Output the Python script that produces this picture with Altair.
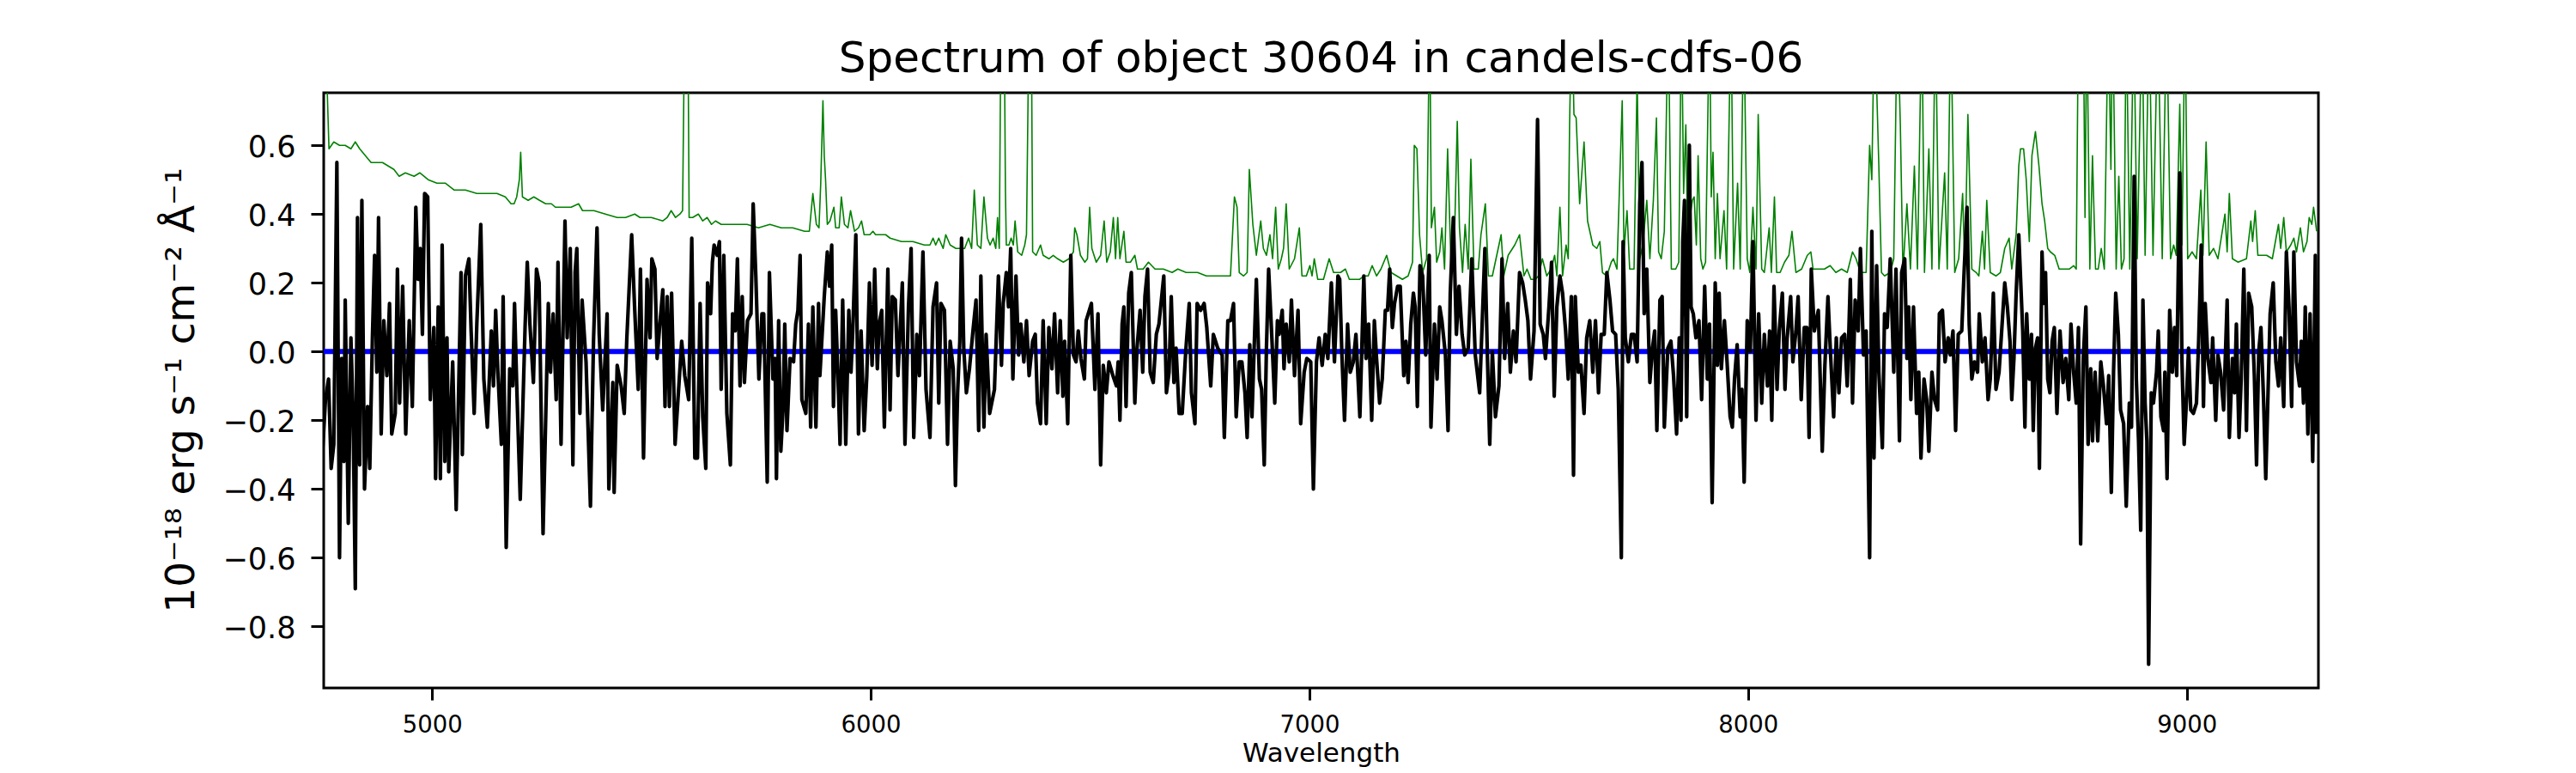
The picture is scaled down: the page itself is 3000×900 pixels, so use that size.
import altair as alt
import pandas as pd

# ---------------- data ----------------
# Object spectrum (black), in six wavelength segments
obj_wave_1 = [4750,4757,4764,4770,4776,4783,4789,4794,4799,4802,4809,4815,4820,4825,4830,4835,4840,4846,4853,4858,
              4864,4869,4874,4878,4884,4890,4897,4903,4908,4916,4921,4926,4933,4940,4948,4955,4963,4968,4973,4978,
              4983,4990,4996,5004,5008,5014,5019,5023,5029,5034,5038,5047,5055,5066,5069,5076,5084,5089,5096,5102,
              5111,5118,5126,5135,5140,5145,5150,5158,5162,5169,5177,5184,5188,5193,5201,5212,5217,5223,5231,5238,
              5244,5253,5260,5265,5270,5276,5283,5287,5294,5303,5308,5315,5321,5326,5330,5337,5342,5351,5361,5368,
              5376,5381,5389,5399,5403,5412,5415,5422,5431,5438,5444,5455,5462,5470,5475,5482,5490,5497,5501,5508,
              5513,5518,5526,5531]
obj_flux_1 = [-0.30,-0.14,-0.08,-0.34,-0.27,0.55,-0.60,-0.02,-0.32,0.15,-0.50,0.04,-0.18,-0.69,0.39,-0.33,0.44,-0.40,-0.16,-0.34,
              0.04,0.28,-0.06,0.39,-0.24,0.09,-0.07,0.14,-0.24,-0.18,0.24,-0.15,0.19,-0.24,0.09,-0.16,0.42,0.21,0.30,0.05,
              0.46,0.45,-0.14,0.07,-0.37,0.13,-0.37,0.31,-0.32,0.04,-0.35,-0.03,-0.46,0.23,-0.30,0.22,0.27,0.06,-0.18,0.08,
              0.37,-0.08,-0.22,0.06,-0.10,0.12,-0.06,-0.27,0.16,-0.57,-0.05,-0.10,0.14,-0.10,-0.43,0.07,0.26,0.08,-0.09,0.24,
              0.20,-0.53,-0.14,0.14,-0.06,0.11,-0.14,0.26,-0.27,0.38,0.04,0.30,-0.33,0.23,0.30,-0.18,0.15,-0.03,-0.45,0.03,
              0.36,0.05,-0.17,0.11,-0.40,-0.09,-0.41,-0.04,-0.10,-0.18,0.04,0.34,0.12,-0.11,0.24,-0.31,0.21,0.04,0.27,0.24,
              -0.02,0.06,0.18,-0.16]

obj_wave_2 = [5536,5541,5546,5554,5560,5569,5576,5585,5592,5599,5605,5611,5617,5624,5628,5635,5639,5643,5650,5655,
              5659,5665,5672,5680,5685,5691,5696,5702,5707,5712,5719,5727,5732,5738,5745,5752,5756,5764,5769,5777,
              5782,5785,5790,5795,5800,5804,5809,5816,5824,5829,5834,5839,5843,5852,5858,5863,5868,5875,5881,5884,
              5894,5901,5906,5911,5915,5920,5925,5930,5936,5943,5950,5955,5959,5966,5972,5978,5985,5991,5997,6003,
              6009,6015,6019,6025,6031,6039,6044,6049,6056,6062,6072,6078,6086,6092,6098,6105,6111,6119,6126,6135,
              6142,6150,6155,6160,6168,6175,6181,6188,6193,6198,6203,6207,6212,6218,6225,6233,6240,6246,6251,6258,
              6263,6271,6282,6291,6298]
obj_flux_2 = [0.16,-0.16,0.17,-0.27,-0.15,0.03,-0.07,-0.14,0.33,-0.31,-0.31,0.14,-0.19,-0.34,0.20,0.11,0.26,0.31,0.28,0.32,
              -0.11,0.28,-0.18,-0.33,0.11,0.06,0.27,-0.10,0.16,-0.09,0.09,0.11,0.43,0.22,-0.08,0.11,0.11,-0.38,0.23,-0.08,
              -0.02,-0.37,0.09,-0.29,-0.17,0.08,-0.23,-0.02,-0.03,0.08,0.12,0.28,-0.14,-0.18,0.08,-0.22,0.13,-0.22,0.14,-0.07,
              0.16,0.29,0.19,0.31,-0.16,0.12,-0.06,-0.27,0.15,-0.27,0.12,-0.06,0.06,0.34,-0.24,0.06,-0.23,-0.07,0.20,-0.04,
              0.24,-0.05,0.08,0.12,-0.22,0.24,-0.17,0.16,0.15,-0.07,0.20,-0.27,0.13,0.30,-0.25,0.05,-0.07,0.29,-0.11,-0.25,
              0.13,0.20,-0.15,0.14,0.12,-0.27,0.03,-0.05,-0.39,-0.12,0.03,0.33,0.01,-0.12,-0.05,0.06,0.15,-0.23,0.22,-0.22,
              0.05,-0.18,-0.11,0.22,-0.04]

obj_wave_3 = [6302,6309,6314,6319,6324,6331,6337,6342,6349,6355,6361,6369,6375,6380,6387,6393,6400,6406,6413,6419,
              6426,6432,6438,6442,6449,6456,6462,6468,6473,6479,6487,6491,6503,6511,6518,6524,6530,6537,6543,6552,
              6560,6564,6568,6573,6577,6582,6588,6594,6602,6607,6614,6620,6625,6631,6637,6644,6651,6657,6668,6674,
              6680,6685,6691,6696,6703,6710,6718,6726,6731,6739,6744,6752,6760,6766,6775,6781,6791,6801,6806,6814,
              6820,6827,6833,6840,6846,6853,6858,6864,6869,6879,6886,6891,6897,6902,6907,6914,6921,6927,6931,6938,
              6942,6947,6954,6959,6966,6974,6980,6988,6994,7003,7009,7016,7022,7029,7036,7042,7050,7057,7065]
obj_flux_3 = [0.14,0.23,0.13,0.30,-0.08,0.22,-0.01,0.08,-0.03,0.09,-0.07,0.03,0.05,-0.15,-0.21,0.09,-0.21,0.07,-0.05,0.11,
              -0.12,0.09,-0.13,0.03,-0.21,0.28,-0.01,-0.03,0.06,-0.02,-0.08,0.09,0.14,-0.11,0.11,-0.33,-0.04,-0.12,-0.03,-0.07,
              -0.10,-0.03,-0.20,0.08,0.13,-0.16,0.17,0.23,-0.15,0.01,0.12,-0.06,0.16,0.24,-0.06,-0.09,0.05,0.08,0.22,-0.12,
              -0.06,0.16,-0.09,0.01,-0.18,-0.18,0.00,0.14,-0.12,-0.21,0.14,0.12,0.14,0.07,-0.10,0.05,0.01,-0.01,-0.25,0.09,
              0.09,0.14,-0.19,-0.03,-0.03,-0.12,-0.25,0.02,-0.19,0.21,-0.08,-0.11,-0.33,0.01,0.24,0.05,-0.15,0.09,0.05,0.12,
              -0.05,0.08,-0.03,0.15,-0.07,0.12,-0.21,-0.06,-0.02,-0.03,-0.40,-0.03,0.04,-0.04,0.05,-0.02,0.20,-0.03,0.22]

obj_wave_4 = [7069,7074,7080,7087,7093,7100,7106,7115,7124,7129,7135,7142,7148,7153,7160,7166,7173,7178,7183,7189,
              7194,7201,7207,7215,7220,7225,7231,7237,7241,7246,7252,7258,7265,7273,7277,7285,7291,7297,7302,7310,
              7316,7321,7328,7335,7341,7348,7354,7362,7370,7378,7388,7400,7406,7411,7417,7424,7432,7439,7445,7452,
              7458,7465,7471,7479,7486,7492,7498,7504,7512,7520,7526,7533,7538,7546,7552,7558,7564,7571,7577,7584,
              7590,7597,7602,7606,7613,7619,7626,7632,7639,7646,7652,7659,7665,7672,7678,7685,7691,7698,7704,7711,
              7715,7720,7727,7734,7740,7747,7753,7758,7763,7769,7776,7782,7787,7792,7799,7804,7809,7817,7824,7830,
              7837,7843]
obj_flux_4 = [0.21,-0.01,-0.20,0.08,-0.06,-0.03,0.05,-0.19,0.22,-0.02,0.08,-0.20,0.09,-0.02,-0.15,-0.08,0.12,0.12,0.24,0.07,
              0.14,0.19,0.19,-0.07,0.03,-0.09,0.08,0.17,0.13,-0.16,0.25,0.22,-0.01,0.28,-0.22,0.08,-0.08,0.13,0.09,-0.01,
              -0.23,0.17,0.39,0.05,0.19,0.05,-0.01,0.01,0.27,-0.01,-0.12,0.30,-0.03,-0.27,0.00,-0.19,-0.10,0.27,-0.02,0.14,
              -0.06,0.06,-0.03,0.23,0.20,0.15,0.09,-0.08,0.06,0.675,0.08,0.05,-0.02,0.13,0.26,-0.13,0.13,0.22,0.17,0.06,
              -0.08,0.16,-0.36,0.16,-0.06,-0.04,-0.18,0.04,0.09,-0.06,0.09,-0.12,0.05,0.05,0.23,0.15,0.06,0.05,-0.11,-0.60,
              0.32,0.04,-0.03,0.05,0.05,-0.03,0.43,0.55,0.11,0.24,-0.09,0.01,0.06,-0.23,0.15,0.16,-0.22,0.01,0.03,-0.07,
              -0.24,0.04]

obj_wave_5 = [7847,7851,7855,7860,7866,7870,7875,7881,7888,7894,7901,7907,7912,7918,7925,7930,7934,7939,7946,7952,
              7959,7964,7969,7975,7982,7986,7991,7998,8005,8011,8018,8024,8031,8037,8044,8049,8054,8059,8066,8071,
              8078,8084,8089,8097,8102,8109,8114,8121,8128,8134,8139,8144,8151,8160,8169,8175,8182,8188,8195,8201,
              8207,8213,8220,8226,8233,8238,8244,8251,8256,8263,8269,8277,8282,8287,8293,8298,8306,8311,8317,8324,
              8332,8337,8345,8350,8357,8362,8366,8371,8377,8384,8389,8394,8401,8407,8412,8419,8425,8432,8436,8443,
              8449,8456,8461,8467,8473,8479,8487,8492,8499,8504,8510,8516,8523,8527,8534,8540,8547,8552,8559,8565,
              8572,8578,8585,8591,8597,8601,8606,8611,8617]
obj_flux_5 = [-0.20,0.32,0.44,-0.19,0.60,0.13,0.11,0.04,0.09,-0.14,0.19,-0.08,0.08,-0.44,0.20,-0.04,0.17,-0.05,0.09,-0.03,
              -0.19,-0.22,-0.08,0.02,-0.19,-0.11,-0.38,0.09,0.00,0.32,-0.20,0.11,-0.15,0.05,-0.10,0.06,-0.20,0.19,-0.11,0.06,
              0.17,-0.11,0.04,0.16,-0.03,0.06,0.16,-0.14,0.07,0.07,-0.25,0.24,0.06,0.12,-0.29,-0.04,0.16,-0.01,-0.19,0.04,
              -0.12,0.04,0.05,-0.10,0.21,-0.15,0.15,0.06,0.30,-0.01,0.06,-0.60,0.35,-0.31,0.25,-0.06,-0.28,0.11,0.07,0.27,
              -0.06,0.24,-0.26,0.23,0.27,-0.02,0.13,-0.14,0.13,-0.18,-0.06,-0.31,-0.08,-0.14,-0.29,-0.06,-0.14,-0.17,0.11,0.12,
              -0.03,0.04,-0.01,0.06,-0.23,0.05,0.06,0.22,0.42,0.08,-0.08,-0.03,-0.06,0.11,-0.03,0.04,-0.14,-0.08,0.17,-0.11,
              -0.06,0.06,0.20,0.13,0.03,-0.14,-0.02,0.17,0.34]

obj_wave_6 = [8626,8631,8635,8641,8646,8650,8655,8660,8664,8670,8674,8678,8683,8688,8693,8698,8704,8711,8718,8724,
              8731,8736,8742,8748,8753,8758,8764,8770,8775,8781,8785,8791,8797,8804,8810,8817,8822,8828,8833,8838,
              8844,8849,8856,8862,8869,8874,8880,8885,8890,8895,8900,8905,8909,8913,8919,8924,8931,8935,8941,8947,
              8950,8955,8961,8967,8972,8977,8984,8989,8994,8999,9004,9009,9015,9022,9027,9033,9038,9042,9048,9055,
              9059,9066,9071,9077,9084,9092,9097,9104,9109,9113,9119,9124,9130,9136,9141,9148,9154,9159,9164,9169,
              9175,9180,9186,9190,9197,9203,9209,9214,9221,9227,9233,9239,9244,9250,9257,9261,9266,9270,9276,9281,
              9287,9293,9296]
obj_flux_6 = [0.06,-0.22,0.11,-0.08,0.05,-0.23,0.01,0.04,-0.34,0.29,0.14,0.23,-0.08,-0.12,0.03,0.07,-0.18,0.06,-0.09,-0.02,
              -0.14,0.08,-0.06,-0.15,0.07,-0.56,-0.02,0.13,-0.27,-0.05,-0.26,-0.06,-0.26,-0.03,-0.10,-0.21,-0.07,-0.41,-0.06,0.17,
              0.05,-0.17,-0.21,-0.45,-0.15,-0.22,0.51,-0.08,-0.26,-0.52,0.15,-0.15,-0.26,-0.91,-0.12,-0.15,-0.06,0.06,-0.19,-0.23,
              -0.06,-0.37,0.12,-0.06,0.07,-0.07,0.52,-0.03,-0.27,-0.15,0.01,-0.17,-0.18,-0.15,0.03,0.31,-0.16,0.14,-0.02,-0.09,
              0.04,-0.20,-0.01,-0.06,-0.17,0.15,-0.25,-0.02,-0.12,0.08,-0.25,-0.08,0.24,-0.23,0.17,0.13,-0.07,-0.33,0.00,0.07,
              -0.14,-0.37,-0.08,0.11,0.20,-0.03,-0.10,0.04,-0.16,0.29,0.13,-0.16,0.29,-0.03,-0.10,0.03,-0.15,0.13,-0.24,0.11,
              -0.32,0.28,-0.24]

# Sky / noise spectrum (green); values of 1.0 run off the top of the panel
sky_wave_1 = [4752,4761,4765,4776,4789,4802,4815,4825,4835,4848,4861,4874,4887,4900,4913,4925,4939,4959,4972,4991,
              5011,5030,5050,5076,5102,5128,5148,5167,5180,5187,5193,5199,5202,5206,5219,5232,5245,5259,5272,5281,
              5298,5317,5334,5343,5369,5395,5422,5441,5462,5474,5500,5526]
sky_flux_1 = [1.0,0.76,0.59,0.61,0.60,0.60,0.59,0.61,0.59,0.57,0.55,0.55,0.55,0.54,0.53,0.51,0.52,0.51,0.52,0.50,
              0.49,0.49,0.47,0.47,0.46,0.46,0.46,0.45,0.43,0.43,0.45,0.50,0.58,0.45,0.44,0.45,0.44,0.43,0.43,0.42,
              0.42,0.42,0.43,0.41,0.41,0.40,0.39,0.39,0.40,0.39,0.39,0.38]

sky_wave_2 = [5536,5545,5555,5565,5571,5576,5583,5586,5594,5607,5617,5627,5637,5646,5659,5672,5699,5718,5744,5770,
              5796,5822,5849,5860,5868,5876,5882,5886,5891,5894,5897,5901,5907,5916,5920,5928,5933,5940,5948,5954,
              5963,5972,5979,5985,5998,6005,6011,6034,6044,6070,6096,6122,6135,6142,6148,6155,6165,6171,6181,6194,
              6214,6223,6230,6236,6243,6251,6258,6266,6272,6279,6285,6289,6293,6297]
sky_flux_2 = [0.39,0.41,0.39,0.40,0.41,1.0,1.0,0.39,0.39,0.40,0.38,0.39,0.37,0.38,0.37,0.37,0.37,0.37,0.36,0.37,
              0.36,0.36,0.35,0.35,0.46,0.37,0.36,0.49,0.73,0.57,0.50,0.37,0.38,0.42,0.36,0.36,0.45,0.37,0.36,0.41,
              0.35,0.36,0.38,0.34,0.34,0.35,0.34,0.34,0.33,0.32,0.32,0.31,0.31,0.33,0.31,0.33,0.30,0.34,0.31,0.30,
              0.30,0.33,0.30,0.47,0.31,0.30,0.45,0.33,0.31,0.33,0.30,0.39,0.30,1.0]

sky_wave_3 = [6304,6307,6309,6315,6320,6325,6329,6335,6344,6351,6355,6361,6366,6369,6377,6387,6393,6406,6416,6426,
              6439,6452,6462,6465,6470,6478,6488,6494,6499,6504,6514,6524,6532,6538,6546,6553,6558,6563,6568,6577,
              6582,6592,6602,6608,6621,6633,6648,6667,6687,6700,6719,6745,6765,6791,6811,6820,6829,6835,6840,6850,
              6858,6863,6871,6879,6889,6895,6902,6910,6916,6923,6929,6936,6941,6947,6954,6966,6977,6983,6993,7001,
              7006,7011,7019,7032,7045,7055,7071]
sky_flux_3 = [1.0,0.47,0.31,0.31,0.33,0.31,0.38,0.29,0.28,0.31,0.34,1.0,1.0,0.29,0.28,0.31,0.28,0.27,0.28,0.27,
              0.26,0.27,0.29,0.36,0.34,0.28,0.26,0.27,0.42,0.30,0.26,0.28,0.38,0.26,0.29,0.39,0.27,0.39,0.27,0.35,
              0.26,0.26,0.28,0.24,0.24,0.26,0.24,0.24,0.23,0.24,0.23,0.23,0.22,0.22,0.22,0.22,0.45,0.42,0.23,0.22,
              0.23,0.53,0.37,0.28,0.38,0.30,0.28,0.34,0.27,0.42,0.24,0.27,0.30,0.43,0.24,0.27,0.36,0.22,0.22,0.25,
              0.22,0.27,0.21,0.21,0.27,0.23,0.23]

sky_wave_4 = [7082,7091,7114,7124,7134,7143,7153,7163,7176,7186,7199,7212,7225,7235,7239,7245,7251,7258,7267,7274,
              7278,7285,7290,7297,7302,7308,7315,7323,7329,7337,7342,7349,7355,7362,7368,7375,7385,7391,7401,7408,
              7417,7427,7437,7443,7453,7468,7479,7489,7496,7505,7515,7522,7531,7541,7551,7559,7564,7571,7577,7585,
              7590,7593,7598,7603,7608,7616,7626,7634,7646,7655,7662,7668,7678,7688,7693,7701,7713,7717,7724,7730,
              7740,7747,7753,7760,7769,7776,7784,7791,7796,7802,7809,7818,7825,7835]
sky_flux_4 = [0.24,0.21,0.21,0.22,0.22,0.25,0.22,0.24,0.28,0.23,0.22,0.21,0.22,0.26,0.60,0.59,0.34,0.23,0.27,1.0,
              0.36,0.42,0.26,0.29,0.36,0.24,0.59,0.24,0.24,0.67,0.36,0.23,0.37,0.24,0.56,0.24,0.24,0.34,0.43,0.22,
              0.22,0.28,0.34,0.22,0.28,0.31,0.34,0.22,0.24,0.21,0.21,0.22,0.27,0.22,0.24,0.28,0.22,0.42,0.22,0.31,
              0.27,0.66,1.0,0.69,0.68,0.43,0.61,0.38,0.31,0.30,0.32,0.23,0.22,0.26,0.27,0.24,0.73,0.29,0.41,0.24,
              0.24,0.8,0.27,0.31,0.44,0.27,0.44,0.68,0.29,0.27,0.35,1.0,0.24,0.24]

sky_wave_5 = [7842,7848,7853,7858,7862,7873,7877,7882,7886,7892,7897,7903,7912,7916,7920,7925,7930,7936,7945,7951,
              7961,7967,7976,7982,7990,7998,8004,8011,8018,8023,8031,8037,8048,8053,8060,8065,8073,8083,8093,8100,
              8109,8122,8135,8143,8148,8161,8174,8187,8200,8213,8226,8238,8246,8256,8269,8277,8282,8288,8298,8304,
              8311,8324,8332,8340,8347,8353,8362,8370,8379,8386,8396,8402,8412,8419,8427,8435,8448,8454,8462,8471,
              8480,8489,8494,8501,8510,8520,8526,8534,8539,8544,8552,8565,8575,8585,8595,8601,8611,8617]
sky_flux_5 = [0.26,1.0,0.46,0.66,0.34,0.44,0.45,0.31,0.57,0.27,0.24,0.26,1.0,0.45,0.58,0.27,0.46,0.27,0.41,0.24,
              1.0,0.24,0.49,0.24,1.0,0.27,0.23,0.42,0.24,0.69,0.24,0.23,0.36,0.23,0.45,0.23,0.23,0.26,0.28,0.35,
              0.23,0.24,0.28,0.29,0.24,0.24,0.24,0.25,0.23,0.24,0.23,0.29,0.27,0.23,0.23,0.60,0.50,1.0,0.54,0.23,
              0.22,0.23,0.27,1.0,0.66,0.23,0.43,0.24,0.54,0.24,1.0,0.23,0.59,0.24,1.0,0.24,0.52,0.24,1.0,0.23,
              0.27,0.46,0.24,0.69,0.24,0.23,0.22,0.35,0.24,0.44,0.23,0.22,0.23,0.30,0.33,0.24,0.34,0.54]

sky_wave_6 = [8621,8628,8634,8641,8647,8655,8663,8670,8676,8683,8689,8699,8709,8722,8732,8742,8748,8753,8764,8768,
              8772,8779,8785,8792,8798,8805,8812,8821,8827,8831,8839,8845,8851,8857,8862,8870,8879,8887,8898,8905,
              8914,8923,8934,8944,8954,8963,8970,8976,8984,8989,8996,9002,9012,9022,9032,9037,9044,9051,9061,9071,
              9087,9092,9097,9104,9117,9136,9146,9150,9156,9162,9182,9195,9209,9214,9221,9227,9237,9244,9250,9259,
              9266,9274,9279,9285,9289,9296]
sky_flux_6 = [0.59,0.59,0.50,0.32,0.57,0.64,0.54,0.43,0.38,0.30,0.29,0.28,0.24,0.24,0.24,0.25,0.24,1.0,1.0,0.39,
              1.0,0.24,0.57,0.24,0.24,0.30,0.24,1.0,0.53,1.0,0.24,0.51,0.24,0.27,1.0,0.24,1.0,0.27,1.0,0.28,
              1.0,0.28,1.0,0.27,1.0,0.27,0.31,0.28,0.72,0.31,1.0,0.27,0.29,0.27,0.47,0.28,0.61,0.28,0.30,0.27,
              0.40,0.29,0.46,0.27,0.26,0.27,0.38,0.32,0.41,0.28,0.28,0.27,0.37,0.30,0.39,0.29,0.31,0.33,0.29,0.36,
              0.29,0.32,0.39,0.37,0.42,0.35]

# Continuum model (blue)
cont_wave = [4753, 9265]
cont_flux = [0.0, 0.0]

x_ticks = [5000, 6000, 7000, 8000, 9000]
y_ticks = [-0.8, -0.6, -0.4, -0.2, 0.0, 0.2, 0.4, 0.6]
x_range = [4753, 9300]
y_range = [-0.979, 0.753]

title_text = "Spectrum of object 30604 in candels-cdfs-06"
x_title = "Wavelength"
y_title = "10\u207b\u00b9\u2078 erg s\u207b\u00b9 cm\u207b\u00b2 \u00c5\u207b\u00b9"


def build(waves, fluxes):
    w = [v for seg in waves for v in seg]
    f = [v for seg in fluxes for v in seg]
    assert len(w) == len(f)
    return pd.DataFrame({"wave": w, "flux": f})


obj = build([obj_wave_1, obj_wave_2, obj_wave_3, obj_wave_4, obj_wave_5, obj_wave_6],
            [obj_flux_1, obj_flux_2, obj_flux_3, obj_flux_4, obj_flux_5, obj_flux_6])
sky = build([sky_wave_1, sky_wave_2, sky_wave_3, sky_wave_4, sky_wave_5, sky_wave_6],
            [sky_flux_1, sky_flux_2, sky_flux_3, sky_flux_4, sky_flux_5, sky_flux_6])
cont = pd.DataFrame({"wave": cont_wave, "flux": cont_flux})

FONT = "DejaVu Sans"
xs = alt.Scale(domain=x_range, nice=False, zero=False)
ys = alt.Scale(domain=y_range, nice=False, zero=False)

x_axis = alt.Axis(values=x_ticks, format="d", titleFontSize=31,
                  titleY=85, titleBaseline="alphabetic", labelFontSize=27.5,
                  tickSize=14, tickWidth=3, labelPadding=15, labelFlush=False)
y_axis = alt.Axis(values=y_ticks, format=".1f", titleFontSize=47,
                  titleAngle=270, titleX=-152, titleY=346, titleBaseline="alphabetic",
                  titleAlign="center", labelFontSize=35, tickSize=15, tickWidth=3,
                  labelPadding=18, labelOffset=2)

X = alt.X("wave:Q", scale=xs, axis=x_axis, title=x_title)
Y = alt.Y("flux:Q", scale=ys, axis=y_axis, title=y_title)

sky_line = alt.Chart(sky).mark_line(color="#008000", strokeWidth=1.6, clip=True,
                                    strokeJoin="round").encode(x=X, y=Y)
cont_line = alt.Chart(cont).mark_line(color="#0000ff", strokeWidth=6, clip=True).encode(x=X, y=Y)
obj_line = alt.Chart(obj).mark_line(color="black", strokeWidth=4.2, clip=True,
                                    strokeJoin="round").encode(x=X, y=Y)

chart = alt.layer(sky_line, cont_line, obj_line).properties(
    width=2323,
    height=693,
    background="white",
    title=alt.TitleParams(text=title_text, fontSize=50, font=FONT, fontWeight="normal",
                          color="black", anchor="middle", frame="group", offset=14,
                          baseline="alphabetic", dy=40),
    padding={"left": 369, "top": 100, "right": 250, "bottom": 94},
    autosize=alt.AutoSizeParams(type="none"),
).configure_view(
    stroke="black", strokeWidth=3
).configure_axis(
    labelFont=FONT, titleFont=FONT, labelColor="black", titleColor="black",
    tickColor="black", titleFontWeight="normal", grid=False, domain=False
)

chart.save("out.html", embed_options={"renderer": "svg", "actions": False})
